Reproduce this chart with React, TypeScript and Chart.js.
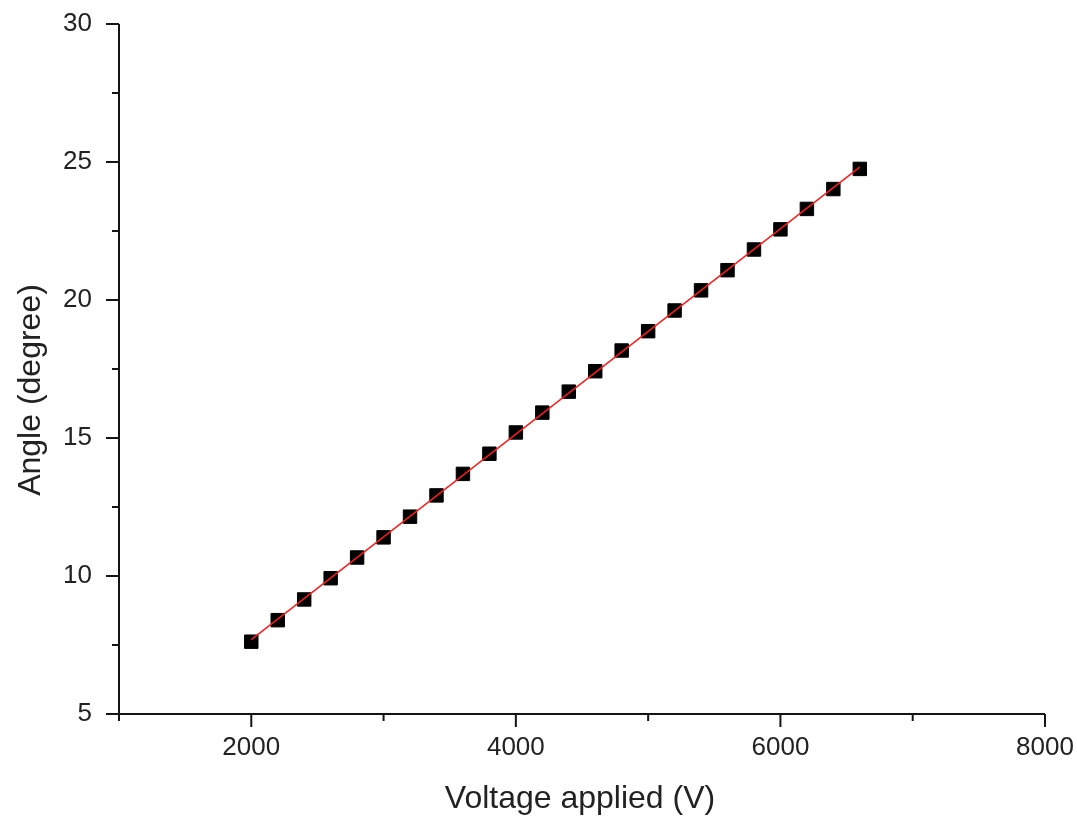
import React, { useEffect, useRef } from "react";
import { Chart, registerables } from "chart.js";

Chart.register(...registerables);

// ---- data ----
const voltages = [
  2000, 2200, 2400, 2600, 2800, 3000, 3200, 3400, 3600, 3800, 4000, 4200,
  4400, 4600, 4800, 5000, 5200, 5400, 5600, 5800, 6000, 6200, 6400, 6600,
];
const angles = [
  7.62, 8.4, 9.15, 9.92, 10.67, 11.4, 12.15, 12.92, 13.7, 14.43, 15.2, 15.92,
  16.68, 17.42, 18.17, 18.87, 19.62, 20.35, 21.08, 21.83, 22.56, 23.3, 24.02, 24.75,
];
const xMajorLabels = [2000, 4000, 6000, 8000];
const yMajorLabels = [5, 10, 15, 20, 25, 30];
const xTitle = "Voltage applied (V)";
const yTitle = "Angle (degree)";

// least-squares linear fit of the data (the red line)
function linearFit(xs: number[], ys: number[]) {
  const n = xs.length;
  const mx = xs.reduce((a, b) => a + b, 0) / n;
  const my = ys.reduce((a, b) => a + b, 0) / n;
  let sxy = 0;
  let sxx = 0;
  for (let i = 0; i < n; i++) {
    sxy += (xs[i] - mx) * (ys[i] - my);
    sxx += (xs[i] - mx) * (xs[i] - mx);
  }
  const slope = sxy / sxx;
  return { slope, intercept: my - slope * mx };
}
const fit = linearFit(voltages, angles);
const fitX = [voltages[0], voltages[voltages.length - 1]];
const fitPoints = fitX.map((x) => ({ x, y: fit.intercept + fit.slope * x }));

const FONT = '"Liberation Sans", Arial, sans-serif';

const axesPlugin = {
  id: "originAxes",
  afterDraw(chart: any) {
    const ctx = chart.ctx;
    const xs = chart.scales.x;
    const ys = chart.scales.y;
    const { left, right, top, bottom } = chart.chartArea;
    ctx.save();
    ctx.strokeStyle = "#141414";
    ctx.lineWidth = 2;
    ctx.beginPath();
    ctx.moveTo(left, top);
    ctx.lineTo(left, bottom);
    ctx.moveTo(left, bottom);
    ctx.lineTo(right, bottom);
    xs.ticks.forEach((t: any) => {
      const p = xs.getPixelForValue(t.value);
      const len = xMajorLabels.includes(t.value) ? 13 : 7;
      ctx.moveTo(p, bottom);
      ctx.lineTo(p, bottom + len);
    });
    ys.ticks.forEach((t: any) => {
      const p = ys.getPixelForValue(t.value);
      const len = yMajorLabels.includes(t.value) ? 13 : 7;
      ctx.moveTo(left, p);
      ctx.lineTo(left - len, p);
    });
    ctx.stroke();

    ctx.fillStyle = "#222";
    ctx.font = `32px ${FONT}`;
    ctx.textAlign = "center";
    ctx.textBaseline = "middle";
    ctx.fillText(xTitle, (left + right) / 2 - 2, bottom + 85);
    ctx.translate(left - 88, (top + bottom) / 2 + 21);
    ctx.rotate(-Math.PI / 2);
    ctx.fillText(yTitle, 0, 0);
    ctx.restore();
  },
};

export default function App() {
  const canvasRef = useRef<HTMLCanvasElement | null>(null);

  useEffect(() => {
    const canvas = canvasRef.current;
    if (!canvas) return;
    const chart = new Chart(canvas, {
      type: "scatter",
      data: {
        datasets: [
          {
            type: "line",
            label: "Fit",
            data: fitPoints,
            borderColor: "#ff1a1a",
            borderWidth: 1.5,
            pointRadius: 0,
            fill: false,
            order: 0,
          } as any,
          {
            label: "Angle",
            data: voltages.map((x, i) => ({ x, y: angles[i] })),
            pointStyle: "rect",
            pointRadius: 9.5,
            pointHoverRadius: 9.5,
            backgroundColor: "#000",
            borderColor: "#000",
            borderWidth: 1,
            order: 1,
          },
        ],
      },
      options: {
        responsive: false,
        animation: false,
        events: [],
        layout: { padding: { top: 24, right: 32, left: 0, bottom: 0 } },
        plugins: {
          legend: { display: false },
          tooltip: { enabled: false },
          title: { display: false },
        },
        scales: {
          x: {
            type: "linear",
            min: 1000,
            max: 8000,
            grid: { display: false, drawTicks: false },
            border: { display: false },
            ticks: {
              stepSize: 1000,
              autoSkip: false,
              maxRotation: 0,
              padding: 18,
              color: "#222",
              font: { family: FONT, size: 26 },
              callback: (v: any) => (xMajorLabels.includes(Number(v)) ? String(v) : ""),
            },
            afterFit: (s: any) => {
              s.height = 104;
              s.paddingLeft = 0;
              s.paddingRight = 0;
              s.paddingTop = 0;
              s.paddingBottom = 0;
            },
          },
          y: {
            type: "linear",
            min: 5,
            max: 30,
            grid: { display: false, drawTicks: false },
            border: { display: false },
            ticks: {
              stepSize: 2.5,
              autoSkip: false,
              padding: 27,
              color: "#222",
              font: { family: FONT, size: 26 },
              callback: (v: any) => (yMajorLabels.includes(Number(v)) ? String(v) : ""),
            },
            afterFit: (s: any) => {
              s.width = 119;
              s.paddingLeft = 0;
              s.paddingRight = 0;
              s.paddingTop = 0;
              s.paddingBottom = 0;
            },
          },
        },
      },
      plugins: [axesPlugin],
    });
    return () => chart.destroy();
  }, []);

  return (
    <div style={{ position: "absolute", left: 0, top: 0, width: 1077, height: 818, background: "#fff" }}>
      <canvas ref={canvasRef} width={1077} height={818} style={{ display: "block" }} />
    </div>
  );
}
